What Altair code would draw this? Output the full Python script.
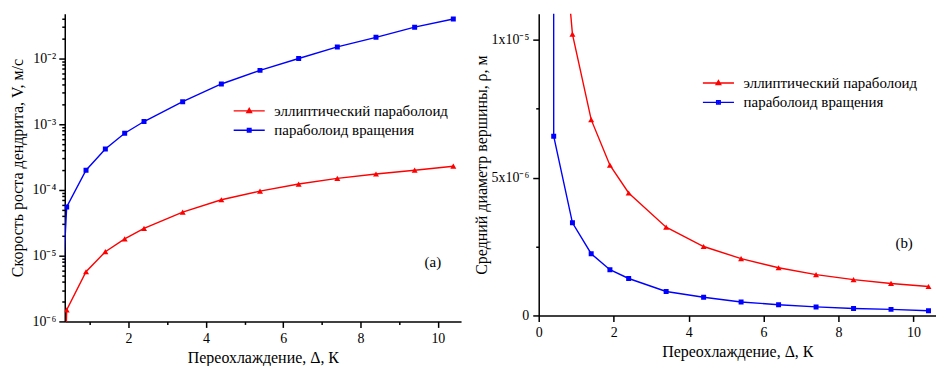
import altair as alt
import pandas as pd

series_names = ["эллиптический параболоид", "параболоид вращения"]
series_colors = ["#ff0000", "#0000ff"]

# undercooling values (first one lies just outside the visible axis range)
x_vals = [0.3, 0.4, 0.9, 1.4, 1.9, 2.4, 3.4, 4.4, 5.4, 6.4, 7.4, 8.4, 9.4, 10.4]

# growth velocity V, m/s (panel a)
V_ellip = [1e-8, 1.5e-6, 5.7e-6, 1.15e-5, 1.8e-5, 2.6e-5, 4.6e-5, 7.1e-5,
           9.6e-5, 1.23e-4, 1.5e-4, 1.75e-4, 2.0e-4, 2.3e-4]
V_rot = [4e-6, 5.5e-5, 2.0e-4, 4.2e-4, 7.3e-4, 1.1e-3, 2.2e-3, 4.1e-3,
         6.6e-3, 1.0e-2, 1.5e-2, 2.1e-2, 3.0e-2, 4.0e-2]

# tip diameter rho, m (panel b)
rho_ellip = [3e-5, 1.8e-5, 1.02e-5, 7.1e-6, 5.45e-6, 4.44e-6, 3.2e-6, 2.5e-6,
             2.06e-6, 1.73e-6, 1.48e-6, 1.3e-6, 1.16e-6, 1.05e-6]
rho_rot = [5e-4, 6.5e-6, 3.36e-6, 2.24e-6, 1.66e-6, 1.34e-6, 0.87e-6, 0.66e-6,
           0.49e-6, 0.39e-6, 0.31e-6, 0.25e-6, 0.22e-6, 0.17e-6]

x_title = "Переохлаждение, Δ, К"
y_title_a = "Скорость роста дендрита, V,  м/с"
y_title_b = "Средний диаметр вершины, ρ, м"

panel_labels = ["(a)", "(b)"]
label_x = [9.87, 9.75]
label_V = [8.1e-6, None]
label_rho = [None, 2.64e-6]

rows = []
for i, x in enumerate(x_vals):
    rows.append({"series": series_names[0], "x": x, "V": V_ellip[i], "rho": rho_ellip[i]})
    rows.append({"series": series_names[1], "x": x, "V": V_rot[i], "rho": rho_rot[i]})
df = pd.DataFrame(rows)

FONT = "Liberation Serif"

# legend glyphs: a line segment with a (stroke-filled) marker in the middle
tri_path = ("M-5.2,0H5.2M-0.78,0.55L0.78,0.55L0,-0.8Z"
            "M-0.35,0.35H0.35M0,0.55V-0.4")
sq_path = ("M-5.2,0H5.2M-0.6,-0.6H0.6V0.6H-0.6Z"
           "M0,-0.6V0.6M-0.3,-0.3H0.3M-0.3,0.3H0.3")


def make_panel(yfield, yscale, yaxis, xscale, xaxis, legend_xy, text_df, w, h):
    base = alt.Chart(df)
    x_enc = alt.X("x:Q", scale=xscale, axis=xaxis)
    y_enc = alt.Y(f"{yfield}:Q", scale=yscale, axis=yaxis)
    cscale = alt.Scale(domain=series_names, range=series_colors)
    color = alt.Color("series:N", scale=cscale, legend=None)
    lines = base.mark_line(clip=True, strokeWidth=1.4).encode(x=x_enc, y=y_enc, color=color)
    pts = base.transform_filter("datum.x >= 0.35").mark_point(
        filled=True, clip=True, opacity=1).encode(
        x=x_enc, y=y_enc, color=color,
        shape=alt.Shape("series:N", scale=alt.Scale(domain=series_names, range=["triangle-up", "square"]), legend=None),
        size=alt.Size("series:N", scale=alt.Scale(domain=series_names, range=[36, 25]), legend=None),
    )
    leg = alt.Legend(orient="none", legendX=legend_xy[0], legendY=legend_xy[1], title=None,
                     symbolSize=36, symbolStrokeWidth=1.4, labelFont=FONT, labelFontSize=15,
                     labelColor="black", labelOffset=17.75, rowPadding=3.5, padding=0,
                     symbolOpacity=1, labelLimit=0)
    legend_layer = base.transform_filter("datum.x < -100").mark_point(
        filled=False, opacity=1, strokeWidth=1.4).encode(
        x=x_enc, y=y_enc,
        color=alt.Color("series:N", scale=cscale, legend=leg),
        shape=alt.Shape("series:N", scale=alt.Scale(domain=series_names, range=[tri_path, sq_path]), legend=leg),
    )
    txt = alt.Chart(text_df).mark_text(font=FONT, fontSize=15, color="black").encode(
        x=alt.X("x:Q"), y=alt.Y(f"{yfield}:Q"), text="label:N")
    return alt.layer(lines, pts, legend_layer, txt).resolve_scale(
        color="independent", shape="independent", size="independent").properties(width=w, height=h)


def x_axis(vals):
    return alt.Axis(values=vals, title=x_title, labelExpr="datum.value % 2 == 0 ? datum.label : ''",
                    tickSize={"condition": {"test": "datum.value % 2 == 0", "value": 6}, "value": 3},
                    labelFlush=False, labelOverlap=False, labelPadding=4, titlePadding=4)


# panel a (log y)
log_vals = [float(f"{m}e{e}") for e in range(-6, -1) for m in range(1, 10)]
log_vals = [v for v in log_vals if v <= 0.048]
sup = {-6: "10⁻⁶", -5: "10⁻⁵", -4: "10⁻⁴", -3: "10⁻³", -2: "10⁻²"}
lab_expr = "''"
for e, s in sup.items():
    lab_expr = f"abs(datum.value / 1e{e} - 1) < 1e-6 ? '{s}' : ({lab_expr})"
major_log = "abs(log(datum.value) / LN10 - round(log(datum.value) / LN10)) < 0.001"

y_axis_a = alt.Axis(values=log_vals, title=y_title_a, labelExpr=lab_expr,
                    tickSize={"condition": {"test": major_log, "value": 6}, "value": 3},
                    labelFlush=False, labelOverlap=False, labelPadding=3, titlePadding=7)
text_a = pd.DataFrame({"x": [label_x[0]], "V": [label_V[0]], "label": [panel_labels[0]]})
left = make_panel("V", alt.Scale(type="log", domain=[1e-6, 0.048], nice=False),
                  y_axis_a, alt.Scale(domain=[0.35, 10.6], nice=False, zero=False),
                  x_axis(list(range(1, 11))), (177.75, 90), text_a, 398, 309)

# panel b (linear y)
lin_vals = [0, 2.5e-6, 5e-6, 7.5e-6, 1e-5]
lab_b = ("datum.value == 0 ? '0' : abs(datum.value - 5e-6) < 1e-9 ? '5x10⁻⁶' : "
         "abs(datum.value - 1e-5) < 1e-9 ? '1x10⁻⁵' : ''")
major_b = "abs(datum.value / 5e-6 - round(datum.value / 5e-6)) < 0.001"
y_axis_b = alt.Axis(values=lin_vals, title=y_title_b, labelExpr=lab_b,
                    tickSize={"condition": {"test": major_b, "value": 6}, "value": 3},
                    labelFlush=False, labelOverlap=False, labelPadding=4, titlePadding=2)
text_b = pd.DataFrame({"x": [label_x[1]], "rho": [label_rho[1]], "label": [panel_labels[1]]})
right = make_panel("rho", alt.Scale(domain=[0, 1.094e-5], nice=False, zero=False),
                   y_axis_b, alt.Scale(domain=[0, 10.6], nice=False, zero=False),
                   x_axis(list(range(0, 11))), (173, 62), text_b, 399, 303)

chart = alt.hconcat(left, right, spacing=12).resolve_scale(
    color="independent", shape="independent", size="independent",
    x="independent", y="independent"
).properties(
    padding={"left": 1, "top": 3, "right": 0, "bottom": 0}
).configure_view(stroke=None).configure_axis(
    grid=False, domainColor="black", tickColor="black", domainWidth=1.5, tickWidth=1.5,
    labelFont=FONT, titleFont=FONT, labelFontSize=14, titleFontSize=16,
    labelColor="black", titleColor="black", titleFontWeight="normal"
)

chart.save("out.html", embed_options={"renderer": "svg", "actions": False})
